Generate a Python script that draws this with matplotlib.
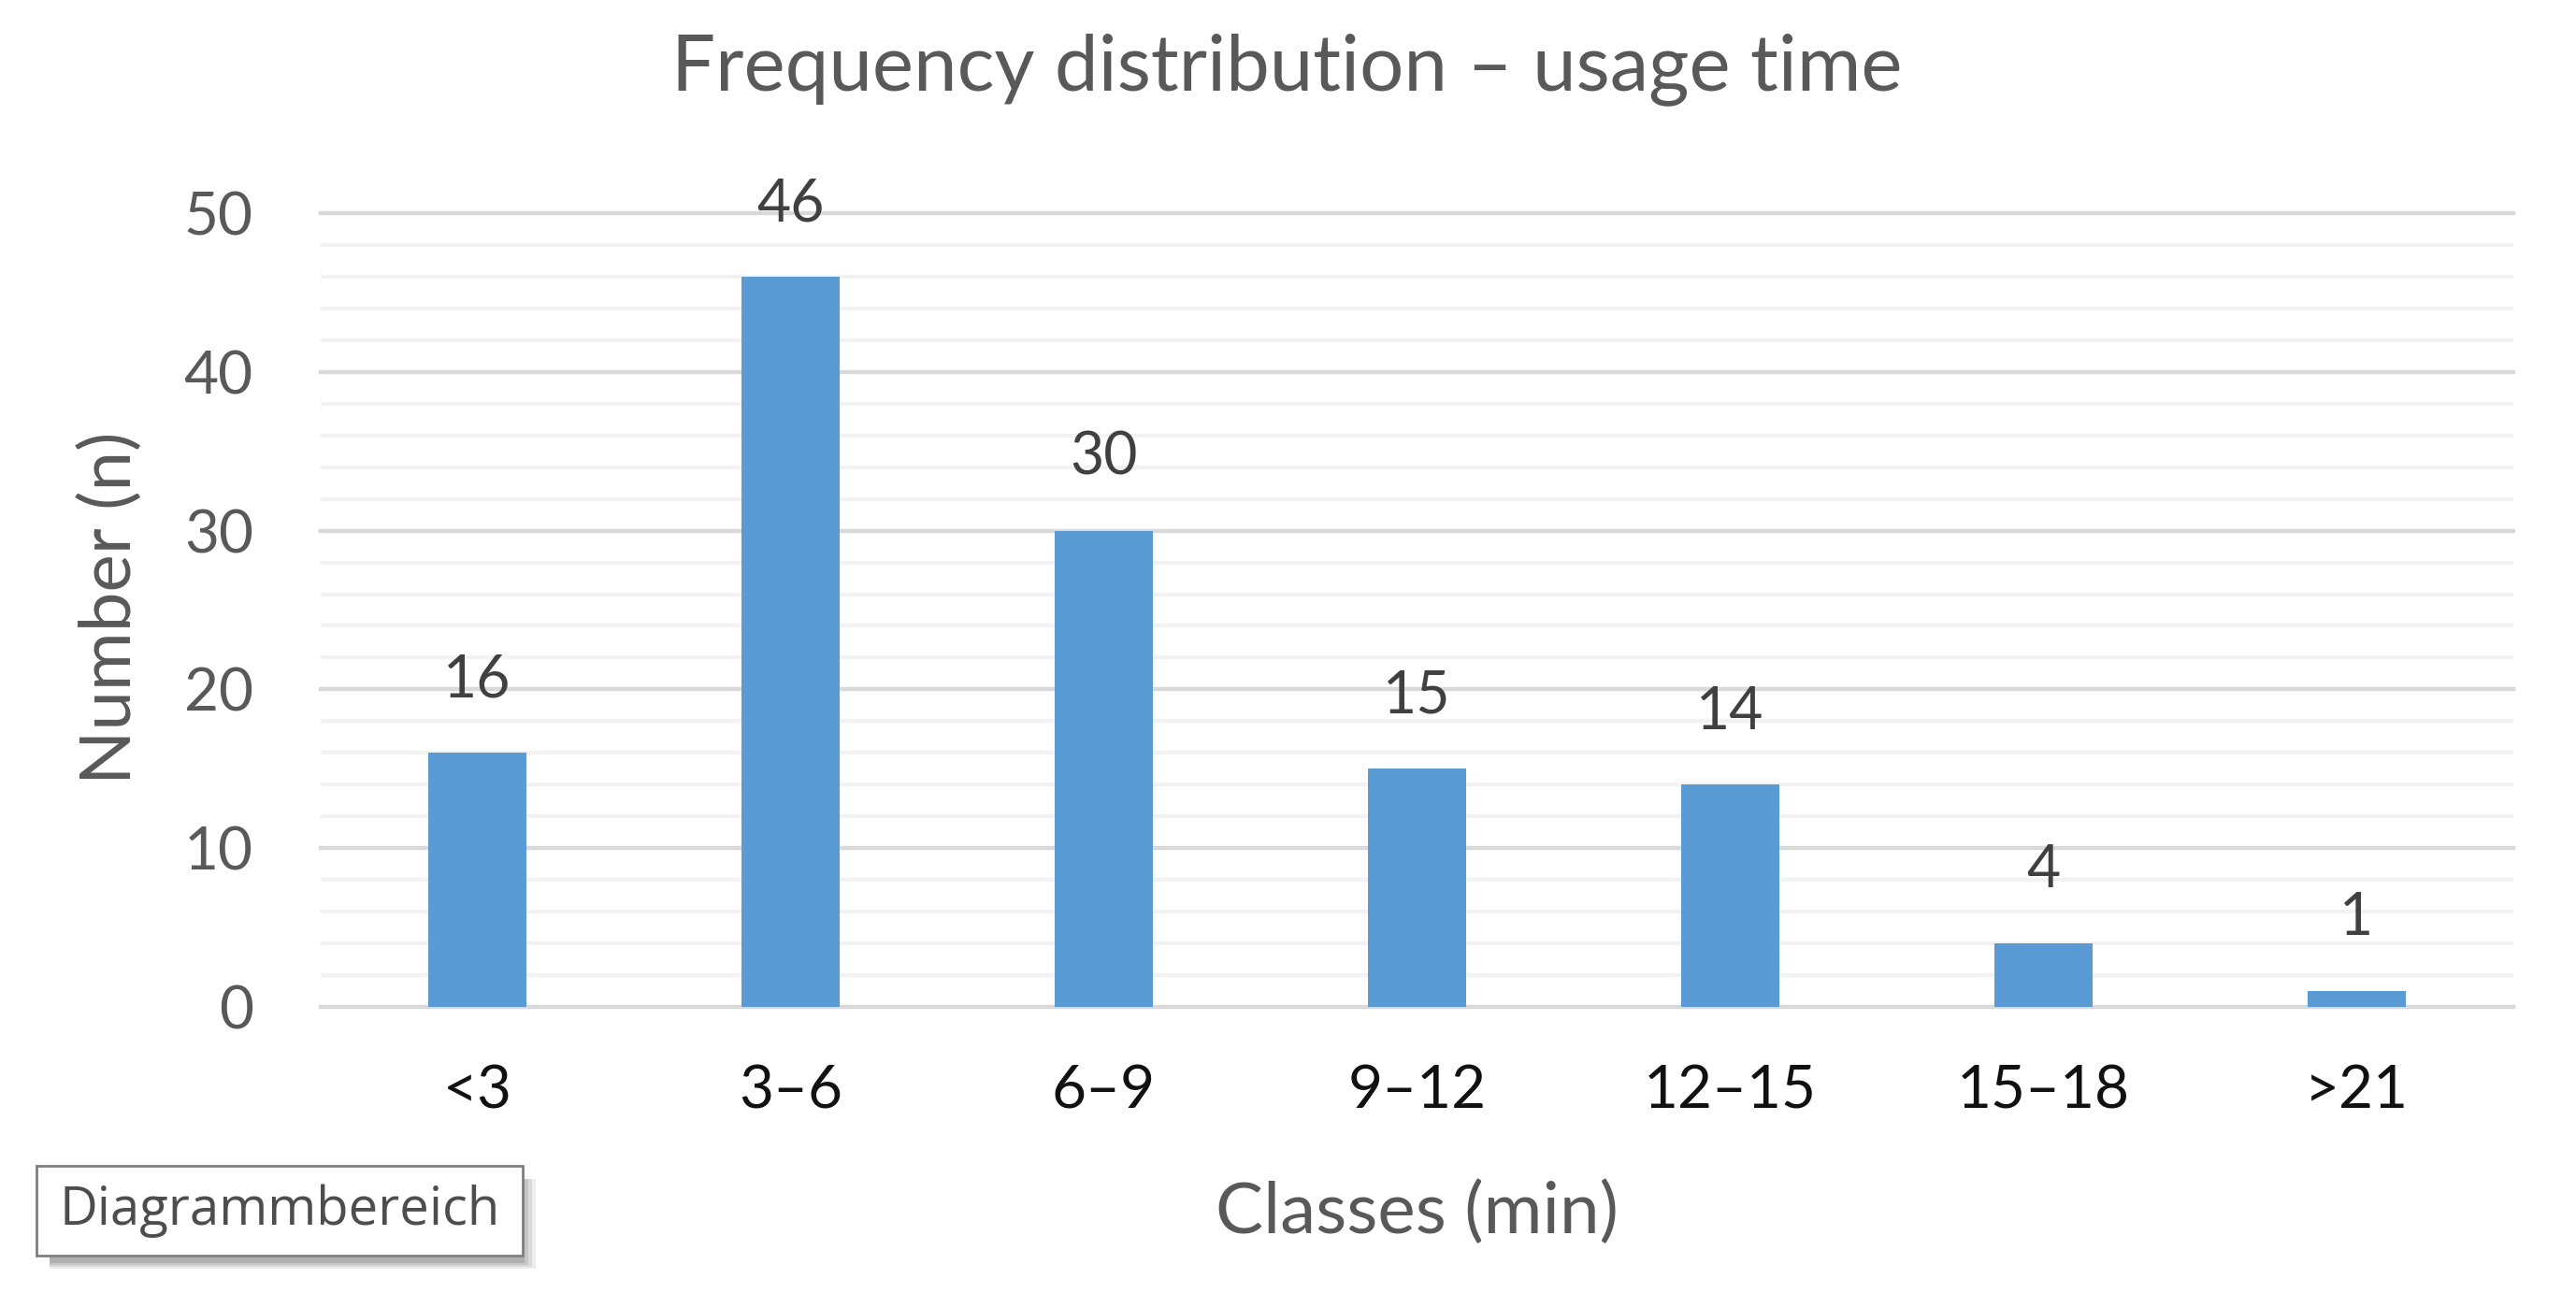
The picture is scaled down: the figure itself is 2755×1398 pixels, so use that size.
import matplotlib
matplotlib.use("Agg")
import matplotlib.pyplot as plt
from matplotlib.patches import Rectangle
import numpy as np

categories = ["<3", "3–6", "6–9", "9–12", "12–15", "15–18", ">21"]
counts = [16, 46, 30, 15, 14, 4, 1]
y_ticks = [0, 10, 20, 30, 40, 50]

title = "Frequency distribution – usage time"
xlabel = "Classes (min)"
ylabel = "Number (n)"

BAR = "#5B9BD5"
TXT = "#595959"
MAJ = "#D9D9D9"
MIN = "#F2F2F2"
FONT = ["Lato", "DejaVu Sans"]

W, H = 2755, 1398
fig = plt.figure(figsize=(W / 100, H / 100), dpi=100)
fig.patch.set_facecolor("white")

L, R, T, B = 343, 2688, 228, 1077
ax = fig.add_axes([L / W, 1 - B / H, (R - L) / W, (B - T) / H])
x = np.arange(len(categories))
ax.set_xlim(-0.5, len(categories) - 0.5)
ax.set_ylim(0, 50)

# gridlines
for v in range(0, 51, 2):
    if v % 10 == 0:
        ax.axhline(v, color=MAJ, lw=3.2, zorder=1, clip_on=False)
    else:
        ax.axhline(v, color=MIN, lw=3.0, zorder=0.5)

bars = ax.bar(x, counts, width=0.313, color=BAR, zorder=2)
for xi, c in zip(x, counts):
    ax.annotate(str(c), (xi, c), xytext=(0, 56), textcoords="offset points",
                ha="center", va="center", fontsize=45, color="#404040",
                family=FONT)

for s in ax.spines.values():
    s.set_visible(False)
ax.tick_params(axis="both", length=0)
ax.set_yticks(y_ticks)
ax.set_yticklabels([str(t) for t in y_ticks], fontsize=46, color=TXT, family=FONT)
ax.tick_params(axis="y", pad=52)
ax.set_xticks(x)
ax.set_xticklabels(categories, fontsize=46, color="#111111", family=FONT)
ax.tick_params(axis="x", pad=44)

fig.text(1376 / W, 1 - 74 / H, title, ha="center", va="center",
         fontsize=60, color=TXT, family=FONT)
fig.text(1515 / W, 1 - 1297 / H, xlabel, ha="center", va="center",
         fontsize=55, color=TXT, family=FONT)
fig.text(118 / W, 1 - 650 / H, ylabel, ha="center", va="center", rotation=90,
         fontsize=55, color=TXT, family=FONT)

# "Diagrammbereich" tooltip box with shadow
bx0, by0, bx1, by1 = 39, 1247, 559, 1343
for i, a in enumerate([0.10, 0.12, 0.15, 0.2]):
    off = 14 - i * 2
    shrink = i * 2
    fig.add_artist(Rectangle(((bx0 + off + shrink) / W, 1 - (by1 + off) / H),
                             (bx1 - bx0 - 2 * shrink) / W, (by1 - by0 - shrink) / H,
                             transform=fig.transFigure, facecolor="#555555",
                             edgecolor="none", alpha=a, zorder=5))
fig.add_artist(Rectangle((bx0 / W, 1 - by1 / H), (bx1 - bx0) / W, (by1 - by0) / H,
                         transform=fig.transFigure, facecolor="white",
                         edgecolor="#7f7f7f", lw=2.0, zorder=6))
fig.text((bx0 + bx1) / 2 / W, 1 - (by0 + by1) / 2 / H, "Diagrammbereich",
         ha="center", va="center", fontsize=40.5, color="#4d4d4d",
         family=["Open Sans", "DejaVu Sans"], zorder=7)

fig.savefig("out.png", dpi=100)
